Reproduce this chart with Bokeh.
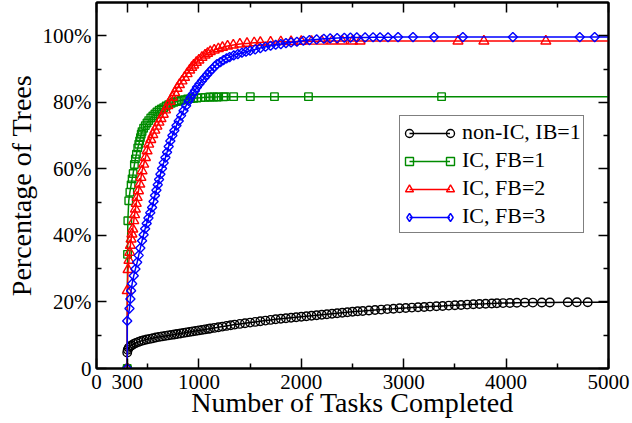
from bokeh.plotting import figure
from bokeh.models import Range1d, FixedTicker, LinearAxis, Legend, LegendItem, ColumnDataSource
from bokeh.core.properties import value
from bokeh.embed import file_html
from bokeh.resources import INLINE
import math

# ---------------- data ----------------
x_ticks = [0, 300, 1000, 2000, 3000, 4000, 5000]
x_minor = [500, 1500, 2500, 3500, 4500]
y_ticks = [0, 20, 40, 60, 80, 100]
y_minor = [10, 30, 50, 70, 90]
y_tick_labels = ["0", "20%", "40%", "60%", "80%", "100%"]

series_labels = ["non-IC, IB=1", "IC, FB=1", "IC, FB=2", "IC, FB=3"]

nonic_x = [300, 300, 305, 315, 330, 345, 364, 385, 410, 435,
           461, 490, 520, 550, 580, 610, 640, 670, 700, 730,
           760, 787, 820, 850, 880, 910, 940, 970, 1000, 1030,
           1060, 1090, 1111, 1150, 1190, 1230, 1270, 1310, 1350, 1400,
           1450, 1500, 1550, 1600, 1650, 1700, 1750, 1800, 1850, 1900,
           1950, 2000, 2050, 2100, 2150, 2200, 2250, 2300, 2350, 2400,
           2450, 2500, 2550, 2600, 2660, 2720, 2780, 2840, 2900, 2960,
           3020, 3080, 3140, 3200, 3257, 3320, 3380, 3440, 3500, 3560,
           3620, 3680, 3740, 3800, 3860, 3910, 3970, 4037, 4105, 4183,
           4261, 4349, 4427, 4602, 4690, 4797, 5150]
nonic_y = [0, 4.8, 5.6, 6.2, 6.7, 7.0, 7.4, 7.7, 8.0, 8.25,
           8.5, 8.7, 8.9, 9.1, 9.3, 9.5, 9.65, 9.8, 9.95, 10.1,
           10.2, 10.35, 10.5, 10.7, 10.85, 11.0, 11.15, 11.3, 11.45, 11.6,
           11.75, 11.9, 12.0, 12.2, 12.4, 12.6, 12.8, 13.0, 13.2, 13.4,
           13.6, 13.8, 14.0, 14.2, 14.4, 14.6, 14.8, 14.95, 15.1, 15.25,
           15.4, 15.55, 15.7, 15.85, 16.0, 16.15, 16.3, 16.45, 16.6, 16.75,
           16.9, 17.05, 17.2, 17.3, 17.45, 17.6, 17.7, 17.85, 17.95, 18.1,
           18.2, 18.3, 18.4, 18.5, 18.6, 18.7, 18.8, 18.9, 19.0, 19.1,
           19.2, 19.3, 19.4, 19.45, 19.55, 19.6, 19.65, 19.7, 19.75, 19.8,
           19.8, 19.85, 19.85, 19.9, 19.9, 19.9, 19.9]

fb1_x = [300, 303, 306, 315, 326, 338, 348, 358, 370, 380,
         390, 403, 413, 421, 429, 437, 445, 460, 477, 493,
         510, 530, 550, 570, 590, 612, 634, 656, 680, 705,
         730, 755, 780, 800, 830, 860, 890, 920, 950, 981,
         1020, 1063, 1095, 1111, 1144, 1177, 1193, 1241, 1258, 1339,
         1502, 1738, 2070, 3370, 5150]
fb1_y = [0, 34.3, 44.4, 50.4, 53.0, 55.2, 57.0, 58.6, 61.3, 63.0,
         64.4, 66.3, 67.4, 68.4, 69.4, 70.4, 71.2, 72.2, 73.0, 73.8,
         74.5, 75.3, 75.9, 76.5, 77.1, 77.6, 78.0, 78.4, 78.9, 79.3,
         79.7, 80.0, 80.2, 80.4, 80.6, 80.8, 81.0, 81.1, 81.2, 81.3,
         81.4, 81.5, 81.55, 81.6, 81.6, 81.6, 81.65, 81.65, 81.7, 81.7,
         81.7, 81.7, 81.7, 81.7, 81.7]

fb2_x = [300, 300, 308, 317, 325, 331, 338, 346, 354, 364,
         372, 380, 388, 397, 410, 423, 434, 445, 461, 478,
         494, 510, 530, 550, 570, 590, 610, 630, 652, 674,
         696, 718, 740, 764, 787, 810, 835, 860, 885, 910,
         930, 949, 975, 1000, 1030, 1060, 1085, 1111, 1150, 1190,
         1230, 1280, 1336, 1400, 1470, 1540, 1600, 1700, 1800, 1900,
         2000, 2100, 2200, 2300, 2400, 2500, 2574, 3530, 3783, 4388,
         5150]
fb2_y = [0, 23.4, 29.7, 32.5, 34.9, 37.0, 38.9, 40.4, 41.9, 44.4,
         46.2, 47.9, 49.6, 51.4, 53.4, 55.4, 57.4, 59.4, 61.4, 63.4,
         65.4, 67.4, 68.8, 70.3, 71.6, 72.8, 74.0, 75.1, 76.4, 77.7,
         79.0, 80.3, 81.5, 82.9, 84.2, 85.3, 86.4, 87.5, 88.6, 89.7,
         90.5, 91.2, 92.0, 92.7, 93.5, 94.2, 94.7, 95.2, 95.7, 96.1,
         96.5, 96.9, 97.2, 97.5, 97.7, 97.9, 98.0, 98.1, 98.2, 98.25,
         98.3, 98.35, 98.35, 98.4, 98.4, 98.4, 98.4, 98.4, 98.4, 98.4,
         98.4]

fb3_x = [300, 300, 322, 331, 338, 348, 364, 380, 397, 412,
         428, 445, 460, 475, 490, 507, 525, 543, 557, 571,
         585, 598, 611, 624, 640, 656, 673, 689, 705, 721,
         741, 760, 781, 803, 826, 850, 875, 900, 920, 940,
         961, 981, 1005, 1030, 1055, 1080, 1105, 1130, 1155, 1177,
         1210, 1240, 1270, 1300, 1340, 1380, 1420, 1460, 1500, 1550,
         1600, 1650, 1700, 1750, 1800, 1850, 1900, 1957, 2020, 2080,
         2150, 2220, 2282, 2350, 2420, 2480, 2542, 2623, 2701, 2769,
         2847, 2945, 3091, 3296, 3578, 4066, 4719, 4865, 5150]
fb3_y = [0, 14.3, 18.0, 20.9, 23.4, 25.5, 27.9, 29.9, 31.9, 34.0,
         36.2, 38.4, 40.2, 42.0, 43.6, 45.2, 46.8, 48.4, 50.2, 52.0,
         53.6, 55.2, 56.8, 58.4, 60.1, 61.8, 63.4, 65.0, 66.7, 68.4,
         70.0, 71.5, 73.0, 74.4, 76.0, 77.5, 79.0, 80.4, 81.5, 82.5,
         83.5, 84.5, 85.5, 86.5, 87.4, 88.3, 89.2, 90.0, 90.8, 91.5,
         92.1, 92.7, 93.2, 93.6, 94.1, 94.5, 94.9, 95.2, 95.5, 95.9,
         96.3, 96.7, 97.0, 97.3, 97.5, 97.8, 98.0, 98.2, 98.5, 98.7,
         98.9, 99.1, 99.2, 99.3, 99.4, 99.45, 99.5, 99.5, 99.55, 99.55,
         99.55, 99.6, 99.6, 99.6, 99.6, 99.6, 99.6, 99.6, 99.6]

# ---------------- figure ----------------
FONT = "Liberation Serif"
p = figure(width=632, height=423, x_range=Range1d(0, 5000), y_range=Range1d(0, 110),
           output_backend="svg", toolbar_location=None,
           min_border_left=96, min_border_right=24, min_border_top=2, min_border_bottom=55)
p.outline_line_color = "black"
p.outline_line_width = 2
p.grid.visible = False
p.background_fill_color = "white"
p.border_fill_color = "white"

xt = FixedTicker(ticks=x_ticks, minor_ticks=x_minor)
yt = FixedTicker(ticks=y_ticks, minor_ticks=y_minor)


def style(ax):
    ax.axis_line_color = "black"
    ax.axis_line_width = 2
    ax.major_tick_in = 10
    ax.major_tick_out = 0
    ax.minor_tick_in = 5
    ax.minor_tick_out = 0
    ax.major_tick_line_color = "black"
    ax.major_tick_line_width = 1.5
    ax.minor_tick_line_color = "black"
    ax.minor_tick_line_width = 1.5
    ax.major_label_text_font = FONT
    ax.major_label_text_font_size = "21px"
    ax.major_label_text_color = "black"
    ax.axis_label_text_font = FONT
    ax.axis_label_text_font_size = "28px"
    ax.axis_label_text_font_style = "normal"
    ax.axis_label_text_color = "black"


xa = p.xaxis[0]
xa.ticker = xt
style(xa)
xa.axis_label = "Number of Tasks Completed"
xa.major_label_standoff = 6
xa.axis_label_standoff = -5
xa.axis_label_text_line_height = 0.77

ya = p.yaxis[0]
ya.ticker = yt
style(ya)
ya.axis_label = "Percentage of Trees"
ya.major_label_standoff = 5
ya.axis_label_standoff = 3
ya.major_label_overrides = {t: s for t, s in zip(y_ticks, y_tick_labels)}

for place, tk in (("above", xt), ("right", yt)):
    ax = LinearAxis(ticker=tk)
    style(ax)
    ax.major_label_text_color = None
    ax.major_label_text_font_size = "1px"
    ax.major_label_standoff = 0
    p.add_layout(ax, place)

# ---------------- series ----------------
colors = ["#000000", "#008b00", "#ff0000", "#0000ff"]
data = [(nonic_x, nonic_y), (fb1_x, fb1_y), (fb2_x, fb2_y), (fb3_x, fb3_y)]
markers = [("circle", 8.5, 0), ("square", 7.5, 0), ("triangle", 10, 0), ("square", 6.5, math.pi / 4)]
legend_markers = ["circle", "square", "triangle", "diamond"]

line_renderers = []
leg_markers = []
for (xs, ys), c, (mk, sz, ang), lmk in zip(data, colors, markers, legend_markers):
    src = ColumnDataSource(data=dict(x=xs, y=ys))
    lr = p.line("x", "y", source=src, line_color=c, line_width=1.5)
    p.scatter("x", "y", source=src, marker=mk, size=sz, angle=ang,
              fill_color=None, line_color=c, line_width=1.4)
    line_renderers.append(lr)
    # hidden renderer used only for the legend symbol
    hr = p.scatter("x", "y", source=src, marker=lmk, size=sz,
                   fill_color=None, line_color=c, line_width=1.4, visible=False)
    leg_markers.append(hr)

# ---------------- legend ----------------
blank = [p.line("x", "y", source=ColumnDataSource(data=dict(x=xs, y=ys)), line_alpha=0)
         for xs, ys in data]

common = dict(spacing=-5, glyph_height=28, margin=0, label_text_line_height=1.0,
              label_text_font=FONT, label_text_font_size="22px", label_text_color="black")

leg_main = Legend(items=[LegendItem(label=value(l), renderers=[r]) for l, r in zip(series_labels, blank)],
                  location=(303, 135), padding=2, glyph_width=55, label_standoff=5,
                  border_line_color="black", border_line_width=1,
                  background_fill_color="white", background_fill_alpha=1.0, **common)
p.add_layout(leg_main)

leg_lines = Legend(items=[LegendItem(label=value(""), renderers=[r]) for r in line_renderers],
                   location=(313, 137), padding=0, glyph_width=41, label_standoff=0,
                   border_line_color=None, background_fill_alpha=0, **common)
p.add_layout(leg_lines)

for xoff in (303, 344):
    lg = Legend(items=[LegendItem(label=value(""), renderers=[r]) for r in leg_markers],
                location=(xoff, 137), padding=0, glyph_width=20, label_standoff=0,
                border_line_color=None, background_fill_alpha=0, **common)
    p.add_layout(lg)

open("out.html", "w").write(file_html(p, INLINE))
